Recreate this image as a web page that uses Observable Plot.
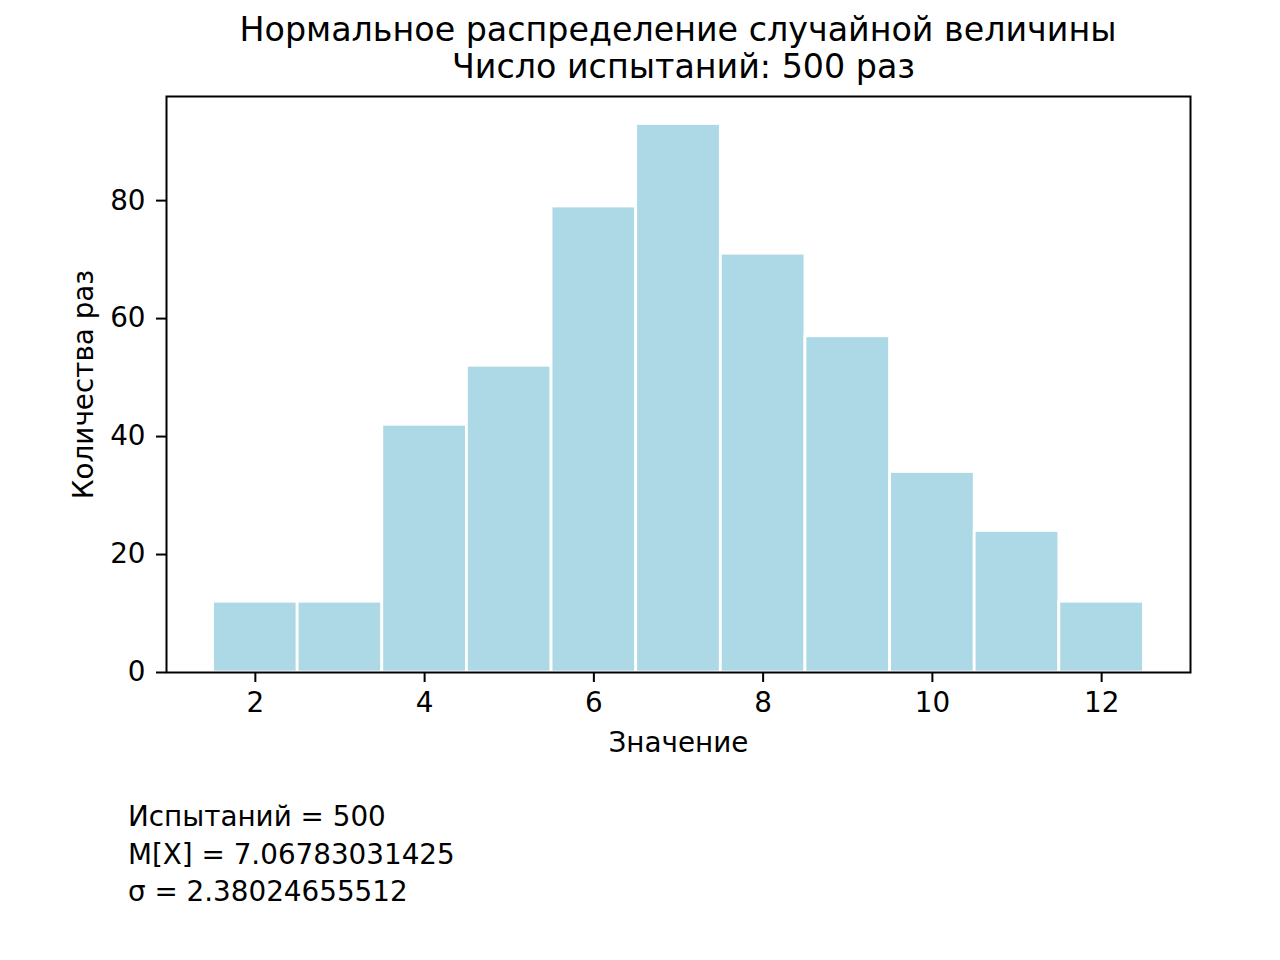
<!DOCTYPE html>
<html>
<head>
<meta charset="utf-8">
<script src="https://cdn.jsdelivr.net/npm/d3@7"></script>
<script src="https://cdn.jsdelivr.net/npm/@observablehq/plot@0.6"></script>
<style>
  html, body { margin: 0; padding: 0; background: #fff; }
  body { width: 1280px; height: 960px; overflow: hidden; font-family: "DejaVu Sans", sans-serif; color: #000; }
  #title { margin-left: 166px; width: 1024px; height: 80px; box-sizing: border-box; padding-top: 11px;
           text-align: center; font-size: 33.3px; line-height: 37px; white-space: nowrap; }
  #title .l2 { display: block; padding-left: 11px; }
  #chart svg { display: block; }
  #footer { padding-left: 128px; padding-top: 36px; font-size: 27.8px; line-height: 37.5px; }
</style>
</head>
<body>
<div id="title"><span>Нормальное распределение случайной величины</span><span class="l2">Число испытаний: 500 раз</span></div>
<div id="chart"></div>
<div id="footer">Испытаний = 500<br>M[X] = 7.06783031425<br>σ = 2.38024655512</div>
<script>
// Data
const values = [2, 3, 4, 5, 6, 7, 8, 9, 10, 11, 12];
const counts = [12, 12, 42, 52, 79, 93, 71, 57, 34, 24, 12];
const xTicks = [2, 4, 6, 8, 10, 12];
const yTicks = [0, 20, 40, 60, 80];
const xLabel = "Значение";
const yLabel = "Количества раз";

const bins = values.map((v, i) => ({x1: v - 0.5, x2: v + 0.5, count: counts[i]}));
const yMax = d3.max(counts) * 1.05;
const xPad = (d3.max(values) - d3.min(values) + 1) * 0.05;

const chart = Plot.plot({
  width: 1280,
  height: 682,
  marginTop: 16,
  marginLeft: 166,
  marginRight: 90,
  marginBottom: 90,
  style: {fontFamily: "DejaVu Sans, sans-serif", fontSize: "27.8px", color: "#000", background: "#fff"},
  x: {domain: [d3.min(values) - 0.5 - xPad, d3.max(values) + 0.5 + xPad], ticks: xTicks, tickFormat: d => String(d)},
  y: {domain: [0, yMax], ticks: yTicks, tickFormat: d => String(d)},
  marks: [
    Plot.rectY(bins, {x1: "x1", x2: "x2", y: "count", fill: "#add8e6", stroke: "#fff", strokeWidth: 2.8}),
    Plot.axisX({ticks: xTicks, tickSize: 10, tickPadding: 10, stroke: "#000", strokeWidth: 2, label: null, fontSize: 27.8}),
    Plot.axisY({ticks: yTicks, tickSize: 10, tickPadding: 11, stroke: "#000", strokeWidth: 2, label: null, fontSize: 27.8}),
    Plot.text([xLabel], {frameAnchor: "bottom", dy: 71, lineAnchor: "middle", textAnchor: "middle", fontSize: 27.8, fill: "#000"}),
    Plot.text([yLabel], {frameAnchor: "left", dx: -82, rotate: -90, lineAnchor: "middle", textAnchor: "middle", fontSize: 27.8, fill: "#000"}),
    Plot.frame({stroke: "#000", strokeWidth: 2})
  ]
});
document.getElementById("chart").appendChild(chart);
</script>
</body>
</html>
